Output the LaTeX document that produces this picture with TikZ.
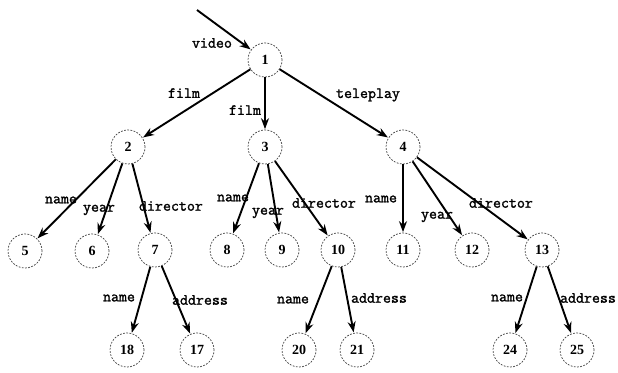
\documentclass[tikz,border=0pt]{standalone}
\usepackage{fontspec}
\setmainfont{Liberation Serif}
\newfontfamily\lblfont{Latin Modern Mono}[FakeBold=1.6]
\usetikzlibrary{arrows.meta}
\tikzset{
  st/.style={circle, draw=black!75, dash pattern=on 1.8pt off 1.4pt, line width=0.7pt,
    minimum size=34pt, inner sep=0pt, font=\fontsize{14}{14}\selectfont\bfseries},
  lbl/.style={inner sep=0pt, font=\lblfont\fontsize{15.5}{15.5}\selectfont},
  arr/.style={line width=1.9pt, -{Stealth[length=11pt,width=8pt]}, shorten >=0.5pt}
}
\begin{document}
\begin{tikzpicture}[x=1pt,y=-1pt]
\useasboundingbox (0,0) rectangle (618,372);
% states
\node[st] (n1) at (265,60) {1};
\node[st] (n2) at (128,147) {2};
\node[st] (n3) at (265,147) {3};
\node[st] (n4) at (403,147) {4};
\node[st] (n5) at (25,251) {5};
\node[st] (n6) at (92,251) {6};
\node[st] (n7) at (155,250) {7};
\node[st] (n8) at (227,250) {8};
\node[st] (n9) at (282,250) {9};
\node[st] (n10) at (338,250) {10};
\node[st] (n11) at (403,250) {11};
\node[st] (n12) at (472,250) {12};
\node[st] (n13) at (542,250) {13};
\node[st] (n18) at (127,350) {18};
\node[st] (n17) at (197,350) {17};
\node[st] (n20) at (299,350) {20};
\node[st] (n21) at (357,350) {21};
\node[st] (n24) at (510,350) {24};
\node[st] (n25) at (577,350) {25};
\coordinate (src) at (197,10);
% edges
\draw[arr] (src) -- (n1);
\draw[arr] (n1) -- (n2);
\draw[arr] (n1) -- (n3);
\draw[arr] (n1) -- (n4);
\draw[arr] (n2) -- (n5);
\draw[arr] (n2) -- (n6);
\draw[arr] (n2) -- (n7);
\draw[arr] (n3) -- (n8);
\draw[arr] (n3) -- (n9);
\draw[arr] (n3) -- (n10);
\draw[arr] (n4) -- (n11);
\draw[arr] (n4) -- (n12);
\draw[arr] (n4) -- (n13);
\draw[arr] (n7) -- (n18);
\draw[arr] (n7) -- (n17);
\draw[arr] (n10) -- (n20);
\draw[arr] (n10) -- (n21);
\draw[arr] (n13) -- (n24);
\draw[arr] (n13) -- (n25);
% labels
\node[lbl] (lvideo) at (212,43) {video};
\node[lbl] (lf1) at (184,93) {film};
\node[lbl] (lf2) at (245,110) {film};
\node[lbl] (ltele) at (368,95) {teleplay};
\node[lbl] (l2n) at (61,200) {name};
\node[lbl] (l2y) at (99,210) {year};
\node[lbl] (l2d) at (171,206) {director};
\node[lbl] (l3n) at (233,198) {name};
\node[lbl] (l3y) at (268,213) {year};
\node[lbl] (l3d) at (324,203) {director};
\node[lbl] (l4n) at (381,199) {name};
\node[lbl] (l4y) at (437,217) {year};
\node[lbl] (l4d) at (501,203) {director};
\node[lbl] (l7n) at (119,298) {name};
\node[lbl] (l7a) at (200,300) {address};
\node[lbl] (l10n) at (293,300) {name};
\node[lbl] (l10a) at (379,298) {address};
\node[lbl] (l13n) at (507,298) {name};
\node[lbl] (l13a) at (588,298) {address};
\end{tikzpicture}
\end{document}
